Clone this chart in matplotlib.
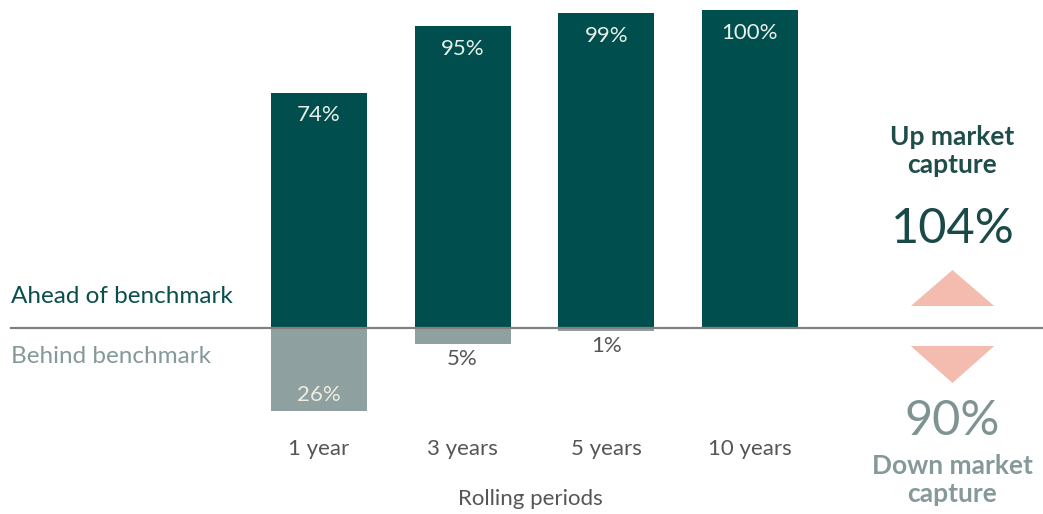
import matplotlib.pyplot as plt
from matplotlib.patches import Polygon

periods = ["1 year", "3 years", "5 years", "10 years"]
ahead = [74, 95, 99, 100]
behind = [26, 5, 1, 0]
up_capture = "104%"
down_capture = "90%"

dark = "#004f4e"
grey_bar = "#8fa0a0"
grey_txt = "#86999a"
salmon = "#f4bcae"

plt.rcParams['font.family'] = ['Lato', 'DejaVu Sans']

fig = plt.figure(figsize=(10.43, 5.14), dpi=100)
ax = fig.add_axes([0, 0, 1, 1])
ax.set_xlim(-2.22, 5.04)
ax.set_ylim(-58.5, 103.1)
ax.axis("off")

x = list(range(len(periods)))
ax.bar(x, ahead, width=0.668, color=dark, zorder=2)
ax.bar(x, [-b for b in behind], width=0.668, color=grey_bar, zorder=2)
ax.plot([-2.14, 5.04], [0, 0], color="#808080", lw=1.6, zorder=3)

for i, (a, b) in enumerate(zip(ahead, behind)):
    ax.text(i, a - 7.2, f"{a}%", ha="center", va="center", fontsize=16,
            color="#e9efe9")
    if b == 0:
        continue
    if b > 10:
        ax.text(i, -b + 5, f"{b}%", ha="center", va="center", fontsize=16,
                color="#efece0")
    else:
        ax.text(i, -b - 4.8, f"{b}%", ha="center", va="center", fontsize=16,
                color="#555555")

for i, p in enumerate(periods):
    ax.text(i, -38, p, ha="center", va="center", fontsize=16,
            color="#555555")
ax.text(1.475, -53.8, "Rolling periods", ha="center", va="center",
        fontsize=16, color="#555555")

ax.text(-2.14, 10, "Ahead of benchmark", ha="left", va="center",
        fontsize=17.5, color="#0b4f4c")
ax.text(-2.14, -9.1, "Behind benchmark", ha="left", va="center",
        fontsize=17.5, color=grey_txt)

cx = 4.41
ax.text(cx, 55.5, "Up market\ncapture", ha="center", va="center",
        fontsize=19, fontweight="bold", color="#1f4d4a", linespacing=1.2)
ax.text(cx, 31, up_capture, ha="center", va="center", fontsize=35,
        color="#1a4a47")
ax.text(cx, -29.2, down_capture, ha="center", va="center", fontsize=35,
        color="#7f9393")
ax.text(cx, -47.8, "Down market\ncapture", ha="center", va="center",
        fontsize=19, fontweight="bold", color=grey_txt, linespacing=1.2)

hw = 0.29
ax.add_patch(Polygon([[cx - hw, 6.9], [cx + hw, 6.9], [cx, 18.2]],
                     closed=True, color=salmon, lw=0))
ax.add_patch(Polygon([[cx - hw, -5.7], [cx + hw, -5.7], [cx, -17.3]],
                     closed=True, color=salmon, lw=0))

fig.savefig("out.png", dpi=100)
